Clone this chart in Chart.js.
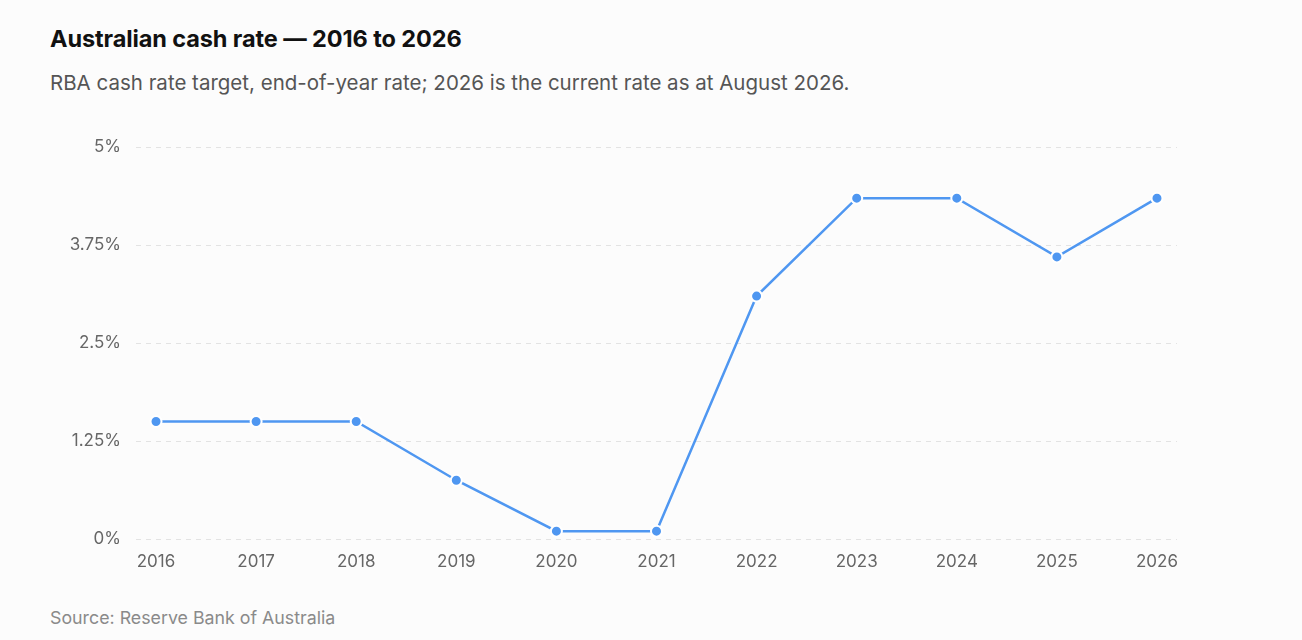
<!DOCTYPE html>
<html>
<head>
<meta charset="utf-8">
<script src="https://cdn.jsdelivr.net/npm/chart.js@4/dist/chart.umd.min.js"></script>
<style>
  body { margin: 0; background: #fcfcfc; font-family: "Inter", "Liberation Sans", sans-serif; }
  .title { position: absolute; left: 50px; top: 24px; font-size: 23.5px; font-weight: 700; color: #111; letter-spacing: -0.1px; }
  .subtitle { position: absolute; left: 50px; top: 70px; font-size: 20.5px; color: #555; }
  .source { position: absolute; left: 50px; top: 607px; font-size: 17.8px; color: #8a8a8a; }
  .wrap { position: absolute; left: 50px; top: 122px; width: 1150px; height: 457px; }
</style>
</head>
<body>
<div class="title">Australian cash rate — 2016 to 2026</div>
<div class="subtitle">RBA cash rate target, end-of-year rate; 2026 is the current rate as at August 2026.</div>
<div class="wrap"><canvas id="rateChart"></canvas></div>
<div class="source">Source: Reserve Bank of Australia</div>
<script>
// end-of-year cash rate, per cent
const years = [2016, 2017, 2018, 2019, 2020, 2021, 2022, 2023, 2024, 2025, 2026];
const cashRate = [1.5, 1.5, 1.5, 0.75, 0.1, 0.1, 3.1, 4.35, 4.35, 3.6, 4.35];
const yTicks = [0, 1.25, 2.5, 3.75, 5];

const lineColor = '#4f97f1';

new Chart(document.getElementById('rateChart'), {
    type: 'line',
    data: {
        datasets: [{
            label: 'Cash rate',
            data: years.map((y, i) => ({ x: y, y: cashRate[i] })),
            borderColor: lineColor,
            backgroundColor: lineColor,
            borderWidth: 2.5,
            pointRadius: 5.5,
            pointBorderWidth: 2,
            pointBorderColor: '#ffffff',
            pointBackgroundColor: lineColor,
            tension: 0
        }]
    },
    options: {
        responsive: true,
        maintainAspectRatio: false,
        animation: false,
        layout: { padding: { top: 0, right: 23 } },
        plugins: {
            legend: { display: false },
            tooltip: { enabled: false }
        },
        scales: {
            x: {
                type: 'linear',
                min: 2015.8,
                max: 2026.2,
                grid: { display: false },
                border: { display: false },
                afterFit: s => { s.height = 40; },
                afterBuildTicks: s => { s.ticks = years.map(v => ({ value: v })); },
                ticks: {
                    padding: 5,
                    color: '#666',
                    font: { size: 17, family: 'Inter' },
                    maxRotation: 0,
                    callback: v => String(v)
                }
            },
            y: {
                min: 0,
                max: 5,
                afterFit: s => { s.width = 86; },
                afterBuildTicks: s => { s.ticks = yTicks.map(v => ({ value: v })); },
                grid: { color: '#e3e3e3', lineWidth: 1, drawTicks: false },
                border: { display: false, dash: [5, 5] },
                ticks: {
                    padding: 15,
                    color: '#666',
                    font: { size: 17, family: 'Inter' },
                    callback: v => v + '%'
                }
            }
        }
    }
});
</script>
</body>
</html>
